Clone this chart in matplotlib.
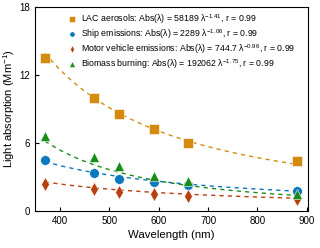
import matplotlib
matplotlib.use('Agg')
import matplotlib.pyplot as plt
import numpy as np

plt.rcParams['font.family'] = ['Liberation Sans', 'DejaVu Sans']
plt.rcParams['mathtext.fontset'] = 'custom'
plt.rcParams['mathtext.rm'] = 'Liberation Sans'
plt.rcParams['mathtext.it'] = 'Liberation Sans'
plt.rcParams['mathtext.default'] = 'regular'

# Measured absorption at each aethalometer wavelength
wavelength = [370, 470, 520, 590, 660, 880]
lac = [13.5, 10.0, 8.55, 7.2, 6.0, 4.4]
ship = [4.45, 3.35, 2.85, 2.5, 2.25, 1.75]
motor = [2.35, 1.9, 1.65, 1.5, 1.35, 1.05]
biomass = [6.6, 4.75, 3.95, 3.1, 2.65, 1.5]

# Power-law fits Abs = A * lambda^-b, as given in the legend
fit_a = [58189, 2289, 744.7, 192062]
fit_b = [1.41, 1.06, 0.96, 1.75]

labels = ['LAC aerosols: Abs(λ) = 58189 λ$^{-1.41}$, r = 0.99',
          'Ship emissions: Abs(λ) = 2289 λ$^{-1.06}$, r = 0.99',
          'Motor vehicle emissions: Abs(λ) = 744.7 λ$^{-0.96}$, r = 0.99',
          'Biomass burning: Abs(λ) = 192062 λ$^{-1.75}$, r = 0.99']
colors = ['#D48A0C', '#0A78BE', '#B8400F', '#1A8C1A']
markers = ['s', 'o', 'd', '^']
sizes = [7.5, 7, 7, 7.5]

fig, ax = plt.subplots(figsize=(3.2, 2.48), dpi=100)
fig.subplots_adjust(left=0.11, right=0.962, top=0.972, bottom=0.15)

series = [lac, ship, motor, biomass]
wl_fit = np.linspace(370, 880, 200)
for vals, a, b, lab, c, m, s in zip(series, fit_a, fit_b, labels, colors, markers, sizes):
    ax.plot(wl_fit, a * wl_fit ** (-b), '--', color=c, lw=1.0, dashes=(3, 3))
    ax.plot(wavelength, vals, m, color=c, ms=s, mec='white', mew=0.4, label=lab)

ax.set_xlim(350, 902)
ax.set_ylim(0, 18)
ax.set_xticks([400, 500, 600, 700, 800, 900])
ax.set_yticks([0, 6, 12, 18])
ax.tick_params(direction='in', labelsize=7, length=3, width=0.8)
ax.tick_params(top=False, right=False)
for sp in ax.spines.values():
    sp.set_linewidth(0.8)
ax.set_xlabel('Wavelength (nm)', fontsize=8.2, labelpad=3)
ax.set_ylabel('Light absorption (Mm$^{-1}$)', fontsize=8, labelpad=2)

ax.legend(loc='upper left', bbox_to_anchor=(0.095, 1.0), frameon=False,
          fontsize=6.3, markerscale=0.55, handletextpad=0.5, handlelength=1.2,
          labelspacing=0.15, borderaxespad=0.2)

fig.savefig('out.png', dpi=100)
